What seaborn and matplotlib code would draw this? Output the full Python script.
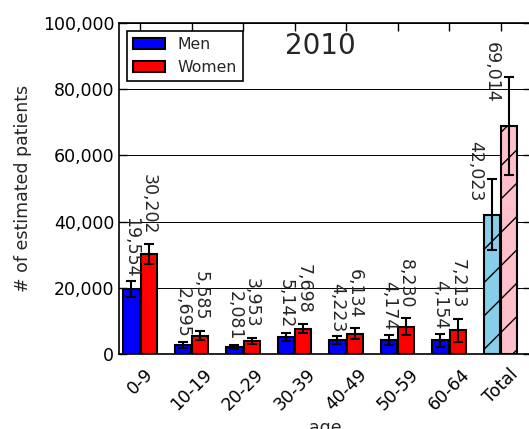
import pandas as pd
import matplotlib
matplotlib.use("Agg")
import matplotlib.pyplot as plt
import seaborn as sns
from matplotlib.patches import Patch
from matplotlib.ticker import FuncFormatter

# datos
ages = ["0-9", "10-19", "20-29", "30-39", "40-49", "50-59", "60-64", "Total"]
men = [19554, 2695, 2081, 5142, 4223, 4174, 4154, 42023]
women = [30202, 5585, 3953, 7698, 6134, 8230, 7213, 69014]
men_err = [2400, 900, 700, 1200, 1200, 1600, 2000, 10700]
women_err = [3000, 1500, 1000, 1500, 1650, 2500, 3500, 14800]
yticks = [0, 20000, 40000, 60000, 80000, 100000]

sns.set_style("ticks")
plt.rcParams["font.family"] = ["DejaVu Sans"]
plt.rcParams["hatch.linewidth"] = 1.0

df = pd.DataFrame({
    "age": ages * 2,
    "sex": ["Men"] * len(ages) + ["Women"] * len(ages),
    "patients": men + women,
})

fig = plt.figure(figsize=(5.29, 4.29), dpi=100)
ax = fig.add_axes([119 / 529, 75 / 429, 412 / 529, 331 / 429])

sns.barplot(data=df, x="age", y="patients", hue="sex",
            palette={"Men": "blue", "Women": "red"}, saturation=1,
            errorbar=None, width=0.67, gap=0.05, edgecolor="black",
            linewidth=1.5, legend=False, ax=ax)

# barras del total con otro color y rayado
for cont, col in zip(ax.containers, ["skyblue", "pink"]):
    cont.patches[-1].set_facecolor(col)
    cont.patches[-1].set_hatch("/")

# barras de error y etiquetas
for cont, vals, errs, off in zip(ax.containers, [men, women],
                                 [men_err, women_err], [3, 7]):
    xs = [p.get_x() + p.get_width() / 2 for p in cont.patches]
    ax.errorbar(xs, vals, yerr=errs, fmt="none", ecolor="black",
                elinewidth=1.5, capsize=3.5, capthick=1.5, zorder=5)
    for p, v, e in zip(cont.patches[:-1], vals[:-1], errs[:-1]):
        ax.annotate(f"{v:,}", (p.get_x() + p.get_width() / 2, v + e),
                    xytext=(0, off), textcoords="offset points",
                    ha="center", va="bottom", rotation=270, fontsize=12.5)
    p = cont.patches[-1]
    ax.text(p.get_x(), vals[-1] * 1.1, f"{vals[-1]:,}", ha="right",
            va="bottom", rotation=270, fontsize=12.5)

ax.set_xlim(-0.41, 7.59)
ax.set_ylim(0, 100000)
ax.set_yticks(yticks)
ax.yaxis.set_major_formatter(FuncFormatter(lambda v, pos: f"{int(v):,}"))
ax.tick_params(axis="both", direction="in", top=True, right=True,
               length=6, width=1, labelsize=12.5, colors="black")
ax.tick_params(axis="x", pad=8)
plt.setp(ax.get_xticklabels(), rotation=45, ha="center")
ax.yaxis.grid(True, color="black", linewidth=0.7)
ax.set_axisbelow(True)
for s in ax.spines.values():
    s.set_color("black")
    s.set_linewidth(1.2)

ax.set_xlabel("age", fontsize=12.5)
ax.set_ylabel("# of estimated patients", fontsize=12.5, labelpad=8)
ax.text(0.488, 0.93, "2010", transform=ax.transAxes, ha="center",
        va="center", fontsize=20)

handles = [Patch(facecolor="blue", edgecolor="black", linewidth=1.5),
           Patch(facecolor="red", edgecolor="black", linewidth=1.5)]
leg = ax.legend(handles, ["Men", "Women"], loc="upper left",
                fontsize=11.3, fancybox=False, framealpha=1,
                edgecolor="black", borderaxespad=0.5)
leg.get_frame().set_linewidth(1.2)

fig.savefig("out.png", dpi=100)
